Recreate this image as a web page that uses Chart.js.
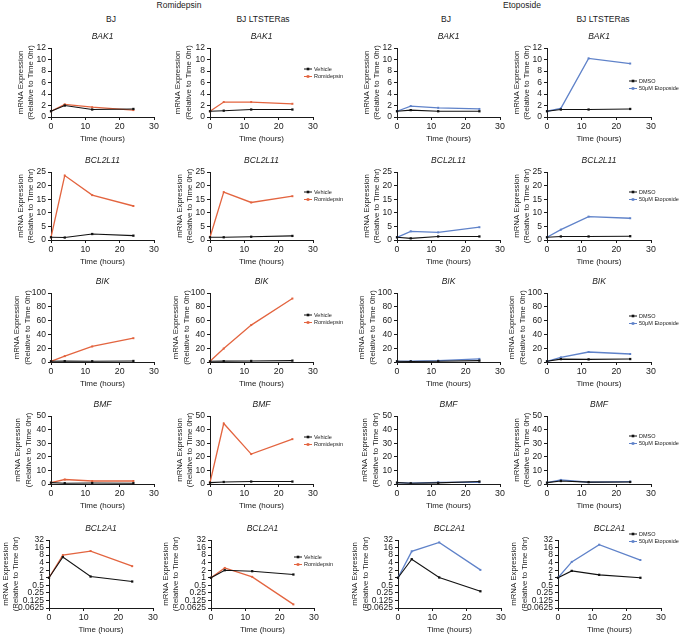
<!DOCTYPE html>
<html><head><meta charset="utf-8">
<script src="https://cdn.jsdelivr.net/npm/chart.js"></script>
<style>
html,body{margin:0;padding:0;background:#fff;}
body{width:685px;height:636px;position:relative;overflow:hidden;font-family:'Liberation Sans',Arial,sans-serif;color:#1a1a1a;}
canvas{position:absolute;}
.hdr{position:absolute;font-size:8.5px;line-height:1;transform:translate(-50%,-50%);white-space:nowrap;}
</style></head><body>
<script>
// ---------- data ----------
const hours = [0, 4, 12, 24];
const xTicks = [0, 10, 20, 30];
const genes = ['BAK1', 'BCL2L11', 'BIK', 'BMF', 'BCL2A1'];
const treatments = ['Romidepsin', 'Etoposide'];
const cellLines = ['BJ', 'BJ LTSTERas'];
const controlLabels = ['Vehicle', 'DMSO'];
const treatedLabels = ['Romidepsin', '50μM Etoposide'];

const ticksBAK1 = [0, 2, 4, 6, 8, 10, 12];
const ticksBCL2L11 = [0, 5, 10, 15, 20, 25];
const ticksBIK = [0, 20, 40, 60, 80, 100];
const ticksBMF = [0, 10, 20, 30, 40, 50];
const ticksBCL2A1 = [0.0625, 0.125, 0.25, 0.5, 1, 2, 4, 8, 16, 32];

const BAK1_Romi_BJ_Vehicle = [1, 2.0, 1.3, 1.4];
const BAK1_Romi_BJ_Romidepsin = [1, 2.2, 1.7, 1.2];
const BAK1_Romi_LT_Vehicle = [1, 1.1, 1.3, 1.3];
const BAK1_Romi_LT_Romidepsin = [1, 2.6, 2.6, 2.3];
const BAK1_Eto_BJ_DMSO = [1, 1.2, 1.0, 1.0];
const BAK1_Eto_BJ_Etoposide = [1, 1.9, 1.6, 1.4];
const BAK1_Eto_LT_DMSO = [1, 1.3, 1.3, 1.4];
const BAK1_Eto_LT_Etoposide = [1, 1.5, 10.2, 9.3];

const BCL2L11_Romi_BJ_Vehicle = [1, 0.9, 2.2, 1.6];
const BCL2L11_Romi_BJ_Romidepsin = [1, 23.7, 16.5, 12.5];
const BCL2L11_Romi_LT_Vehicle = [1, 1.0, 1.2, 1.5];
const BCL2L11_Romi_LT_Romidepsin = [1, 17.6, 13.8, 16.1];
const BCL2L11_Eto_BJ_DMSO = [1, 0.6, 1.3, 1.3];
const BCL2L11_Eto_BJ_Etoposide = [1, 3.2, 2.8, 4.7];
const BCL2L11_Eto_LT_DMSO = [1, 1.3, 1.3, 1.4];
const BCL2L11_Eto_LT_Etoposide = [1, 3.8, 8.6, 8.0];

const BIK_Romi_BJ_Vehicle = [1, 1.2, 1.1, 1.5];
const BIK_Romi_BJ_Romidepsin = [1, 8.5, 22.5, 34.5];
const BIK_Romi_LT_Vehicle = [1, 1.3, 1.5, 2.0];
const BIK_Romi_LT_Romidepsin = [1, 19.5, 53.5, 92];
const BIK_Eto_BJ_DMSO = [1, 0.8, 1.0, 2.0];
const BIK_Eto_BJ_Etoposide = [1, 1.3, 2.0, 4.5];
const BIK_Eto_LT_DMSO = [1, 4.2, 3.8, 4.3];
const BIK_Eto_LT_Etoposide = [1, 6.7, 14.5, 11.6];

const BMF_Romi_BJ_Vehicle = [1, 0.6, 0.7, 0.6];
const BMF_Romi_BJ_Romidepsin = [1, 3.3, 2.2, 2.2];
const BMF_Romi_LT_Vehicle = [1, 1.5, 1.8, 1.8];
const BMF_Romi_LT_Romidepsin = [1, 44.5, 22, 33];
const BMF_Eto_BJ_DMSO = [1, 0.5, 0.8, 1.8];
const BMF_Eto_BJ_Etoposide = [1, 0.6, 1.2, 1.3];
const BMF_Eto_LT_DMSO = [1, 2.2, 1.4, 1.5];
const BMF_Eto_LT_Etoposide = [1, 3.0, 1.3, 1.8];

const BCL2A1_Romi_BJ_Vehicle = [1, 6.7, 1.12, 0.71];
const BCL2A1_Romi_BJ_Romidepsin = [1, 8.0, 11.6, 2.9];
const BCL2A1_Romi_LT_Vehicle = [1, 2.0, 1.83, 1.35];
const BCL2A1_Romi_LT_Romidepsin = [1, 2.47, 1.09, 0.087];
const BCL2A1_Eto_BJ_DMSO = [1, 5.5, 1.03, 0.29];
const BCL2A1_Eto_BJ_Etoposide = [1, 11.3, 25.6, 2.06];
const BCL2A1_Eto_LT_DMSO = [1, 1.88, 1.31, 1.0];
const BCL2A1_Eto_LT_Etoposide = [1, 4.3, 20.8, 5.1];

// panel lookup (rows = genes, columns = Romi BJ, Romi LT, Eto BJ, Eto LT)
const controlSeries = [
  [BAK1_Romi_BJ_Vehicle, BAK1_Romi_LT_Vehicle, BAK1_Eto_BJ_DMSO, BAK1_Eto_LT_DMSO],
  [BCL2L11_Romi_BJ_Vehicle, BCL2L11_Romi_LT_Vehicle, BCL2L11_Eto_BJ_DMSO, BCL2L11_Eto_LT_DMSO],
  [BIK_Romi_BJ_Vehicle, BIK_Romi_LT_Vehicle, BIK_Eto_BJ_DMSO, BIK_Eto_LT_DMSO],
  [BMF_Romi_BJ_Vehicle, BMF_Romi_LT_Vehicle, BMF_Eto_BJ_DMSO, BMF_Eto_LT_DMSO],
  [BCL2A1_Romi_BJ_Vehicle, BCL2A1_Romi_LT_Vehicle, BCL2A1_Eto_BJ_DMSO, BCL2A1_Eto_LT_DMSO]
];
const treatedSeries = [
  [BAK1_Romi_BJ_Romidepsin, BAK1_Romi_LT_Romidepsin, BAK1_Eto_BJ_Etoposide, BAK1_Eto_LT_Etoposide],
  [BCL2L11_Romi_BJ_Romidepsin, BCL2L11_Romi_LT_Romidepsin, BCL2L11_Eto_BJ_Etoposide, BCL2L11_Eto_LT_Etoposide],
  [BIK_Romi_BJ_Romidepsin, BIK_Romi_LT_Romidepsin, BIK_Eto_BJ_Etoposide, BIK_Eto_LT_Etoposide],
  [BMF_Romi_BJ_Romidepsin, BMF_Romi_LT_Romidepsin, BMF_Eto_BJ_Etoposide, BMF_Eto_LT_Etoposide],
  [BCL2A1_Romi_BJ_Romidepsin, BCL2A1_Romi_LT_Romidepsin, BCL2A1_Eto_BJ_Etoposide, BCL2A1_Eto_LT_Etoposide]
];
const yTickLists = [ticksBAK1, ticksBCL2L11, ticksBIK, ticksBMF, ticksBCL2A1];

// ---------- layout / style ----------
const TXT = '#1a1a1a';
const treatedColors = ['#e3643f', '#5f82c9'];
const YW = 52, TOPH = 16, XH = 28;
const plotTop = [48, 172, 293, 416, 540];
const plotBottom = [117, 240, 362, 484, 608];
const colLR = [[51, 154], [210, 313], [397, 500], [547, 651]];
const row5LR = [[49, 153], [211, 314], [398, 501], [558, 661]];
const canvasRight = [168, 346, 514, 685];
const yTitlePad = [
  [16.5, 15.0, 16.5, 16.5],
  [16.5, 16.5, 16.5, 16.5],
  [13.0, 13.0, 12.0, 12.0],
  [14.0, 16.5, 14.7, 16.4],
  [3.4, 1.4, 3.7, 3.0]
];
const legendDX = [[0, -9, 0, -22], [0, -9, 0, -22], [0, -9, 0, -22], [0, -9, 0, -22], [0, -20, 0, -32]];
const legendDY = [[0, 21, 0, 33], [0, 20, 0, 20], [0, 22, 0, 23], [0, 21, 0, 20], [0, 17, 0, -6]];

const headers = [
  {text: treatments[0], x: 179, y: 5},
  {text: treatments[1], x: 522, y: 5},
  {text: cellLines[0], x: 111, y: 19},
  {text: cellLines[1], x: 263, y: 19},
  {text: cellLines[0], x: 446, y: 19},
  {text: cellLines[1], x: 603, y: 19}
];
headers.forEach(h => {
  const d = document.createElement('div');
  d.className = 'hdr';
  d.textContent = h.text;
  d.style.left = h.x + 'px';
  d.style.top = h.y + 'px';
  document.body.appendChild(d);
});

Chart.defaults.font.family = "'Liberation Sans', Arial, sans-serif";
Chart.defaults.color = TXT;

const sideLegend = {
  id: 'sideLegend',
  afterDraw(chart, args, opts) {
    if (!opts || !opts.show) return;
    const {ctx, chartArea} = chart;
    const x0 = chartArea.right + opts.dx;
    let y = chartArea.top + opts.dy;
    ctx.save();
    ctx.font = "5.5px 'Liberation Sans', Arial, sans-serif";
    ctx.textBaseline = 'middle';
    ctx.textAlign = 'left';
    chart.data.datasets.forEach(ds => {
      ctx.strokeStyle = ds.borderColor;
      ctx.lineWidth = 1;
      ctx.beginPath(); ctx.moveTo(x0, y); ctx.lineTo(x0 + 8, y); ctx.stroke();
      ctx.fillStyle = ds.borderColor;
      ctx.fillRect(x0 + 4 - 1.3, y - 1.3, 2.6, 2.6);
      ctx.fillStyle = TXT;
      ctx.fillText(ds.label, x0 + 10, y);
      y += 7.5;
    });
    ctx.restore();
  }
};

function makeChart(r, c) {
  const t = c < 2 ? 0 : 1;
  const [PL, PR] = r === 4 ? row5LR[c] : colLR[c];
  const PT = plotTop[r], PB = plotBottom[r];
  const L = PL - YW, T = PT - TOPH;
  const W = canvasRight[c] - L, H = TOPH + (PB - PT) + XH;
  const cv = document.createElement('canvas');
  cv.width = W; cv.height = H;
  cv.style.left = L + 'px'; cv.style.top = T + 'px';
  cv.style.width = W + 'px'; cv.style.height = H + 'px';
  document.body.appendChild(cv);
  const yt = yTickLists[r];
  const isLog = r === 4;
  const axisCommon = {
    grid: {display: true, drawOnChartArea: false, drawTicks: true, tickLength: 3, color: TXT, lineWidth: 1},
    border: {display: true, color: TXT, width: 1}
  };
  new Chart(cv, {
    type: 'line',
    data: {
      datasets: [
        {label: controlLabels[t], data: hours.map((h, i) => ({x: h, y: controlSeries[r][c][i]})),
         borderColor: '#111', backgroundColor: '#111', borderWidth: 1.1, pointStyle: 'rect',
         pointRadius: 1.6, pointBorderWidth: 0, tension: 0, clip: false},
        {label: treatedLabels[t], data: hours.map((h, i) => ({x: h, y: treatedSeries[r][c][i]})),
         borderColor: treatedColors[t], backgroundColor: treatedColors[t], borderWidth: 1.3, pointStyle: 'rect',
         pointRadius: 1.4, pointBorderWidth: 0, tension: 0, clip: false}
      ]
    },
    options: {
      responsive: false, animation: false, devicePixelRatio: 1,
      layout: {padding: {left: 0, top: 0, bottom: 0, right: canvasRight[c] - PR}},
      plugins: {
        legend: {display: false},
        tooltip: {enabled: false},
        title: {display: true, text: genes[r], fullSize: false, color: TXT,
                font: {size: 8.5, style: 'italic', weight: 'normal', lineHeight: 1.2}, padding: {top: 0, bottom: 5.8}},
        sideLegend: {show: c % 2 === 1, dx: legendDX[r][c], dy: legendDY[r][c]}
      },
      scales: {
        x: Object.assign({
          type: 'linear', min: 0, max: 30,
          afterBuildTicks: s => { s.ticks = xTicks.map(v => ({value: v})); },
          afterFit: s => { s.height = XH; },
          ticks: {font: {size: 8.8}, color: TXT, padding: 1, maxRotation: 0, autoSkip: false},
          title: {display: true, text: 'Time (hours)', color: TXT, font: {size: 8, lineHeight: 1.2}, padding: {top: 0, bottom: 1.7}}
        }, axisCommon),
        y: Object.assign({
          type: isLog ? 'logarithmic' : 'linear', min: yt[0], max: yt[yt.length - 1],
          afterBuildTicks: s => { s.ticks = yt.map(v => ({value: v})); },
          afterFit: s => { s.width = YW; },
          ticks: {font: {size: 8.5, lineHeight: 1}, color: TXT, padding: 2, autoSkip: false, callback: v => String(v)},
          title: {display: true, text: ['mRNA Expression', '(Relative to Time 0hr)'], color: TXT,
                  font: {size: 7.8, lineHeight: 1.35}, padding: {top: yTitlePad[r][c], bottom: 0}}
        }, axisCommon)
      }
    },
    plugins: [sideLegend]
  });
}

for (let r = 0; r < 5; r++) for (let c = 0; c < 4; c++) makeChart(r, c);
</script>
</body></html>
